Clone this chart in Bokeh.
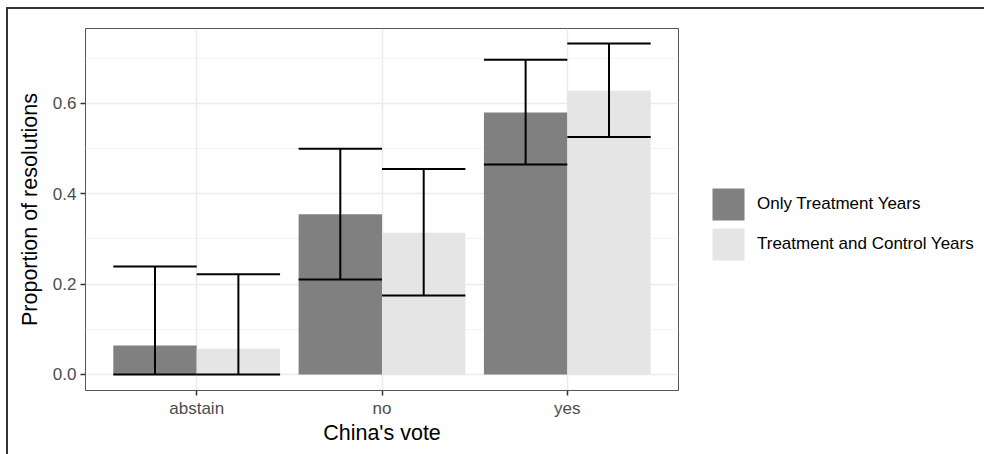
from bokeh.plotting import figure
from bokeh.models import (ColumnDataSource, FactorRange, Range1d, FixedTicker,
                          Legend, LegendItem, PrintfTickFormatter)
from bokeh.transform import dodge
from bokeh.embed import file_html
from bokeh.resources import INLINE

# China's vote categories and estimated proportions with 95% intervals
votes = ["abstain", "no", "yes"]
only_treatment = [0.064, 0.355, 0.580]
only_treatment_lo = [0.0, 0.210, 0.465]
only_treatment_hi = [0.239, 0.500, 0.697]
treat_and_control = [0.057, 0.314, 0.628]
treat_and_control_lo = [0.0, 0.175, 0.526]
treat_and_control_hi = [0.222, 0.455, 0.733]

y_ticks = [0.0, 0.2, 0.4, 0.6]
y_minor = [0.1, 0.3, 0.5, 0.7]

FONT = "Liberation Sans"
DARK = "#808080"
LIGHT = "#E5E5E5"

src = ColumnDataSource(dict(
    vote=votes,
    a=only_treatment, a_lo=only_treatment_lo, a_hi=only_treatment_hi,
    b=treat_and_control, b_lo=treat_and_control_lo, b_hi=treat_and_control_hi,
))

x_range = FactorRange(factors=votes, range_padding=0.1,
                      range_padding_units="absolute")
p = figure(frame_width=593, frame_height=362, x_range=x_range,
           y_range=Range1d(-0.0355, 0.766),
           output_backend="svg", toolbar_location=None,
           min_border_left=77, min_border_right=300,
           min_border_top=19, min_border_bottom=66)
p.margin = (7, 0, 0, 6)
p.styles = {"border-left": "2px solid #333333", "border-top": "2px solid #333333",
            "overflow": "hidden"}

p.background_fill_color = "white"
p.border_fill_color = "white"
p.outline_line_color = "#555555"
p.outline_line_width = 1

# grid
p.xgrid.grid_line_color = "#EBEBEB"
p.xgrid.grid_line_width = 1.5
p.ygrid.grid_line_color = "#EBEBEB"
p.ygrid.grid_line_width = 1.5
p.ygrid.minor_grid_line_color = "#F3F3F3"
p.ygrid.minor_grid_line_width = 1

p.yaxis.ticker = FixedTicker(ticks=y_ticks, minor_ticks=y_minor)
p.yaxis.formatter = PrintfTickFormatter(format="%.1f")

for ax in (p.xaxis[0], p.yaxis[0]):
    ax.axis_line_color = None
    ax.major_tick_line_color = "#333333"
    ax.major_tick_line_width = 1.5
    ax.major_tick_out = 5
    ax.major_tick_in = 0
    ax.minor_tick_line_color = None
    ax.major_label_text_font = FONT
    ax.major_label_text_font_size = "17px"
    ax.major_label_text_color = "#4D4D4D"
    ax.axis_label_text_font = FONT
    ax.axis_label_text_font_size = "21.5px"
    ax.axis_label_text_font_style = "normal"
    ax.axis_label_text_color = "black"

p.xaxis.axis_label = "China's vote"
p.yaxis.axis_label = "Proportion of resolutions"
p.xaxis.major_label_standoff = 3
p.xaxis.axis_label_standoff = 0
p.yaxis.major_label_standoff = 4
p.yaxis.axis_label_standoff = 8

# bars
bar_a = p.vbar(x=dodge("vote", -0.225, range=x_range), top="a", bottom=0,
               width=0.45, source=src, fill_color=DARK, line_color=None)
bar_b = p.vbar(x=dodge("vote", 0.225, range=x_range), top="b", bottom=0,
               width=0.45, source=src, fill_color=LIGHT, line_color=None)

# error bars: caps span the full bar width
err = dict(line_color="black", line_width=2, source=src)
for off, lo, hi in ((-0.225, "a_lo", "a_hi"), (0.225, "b_lo", "b_hi")):
    p.segment(x0=dodge("vote", off, range=x_range), y0=lo,
              x1=dodge("vote", off, range=x_range), y1=hi, **err)
    p.segment(x0=dodge("vote", off - 0.225, range=x_range), y0=lo,
              x1=dodge("vote", off + 0.225, range=x_range), y1=lo, **err)
    p.segment(x0=dodge("vote", off - 0.225, range=x_range), y0=hi,
              x1=dodge("vote", off + 0.225, range=x_range), y1=hi, **err)

# legend in the right-hand panel
legend = Legend(items=[
    LegendItem(label="Only Treatment Years", renderers=[bar_a]),
    LegendItem(label="Treatment and Control Years", renderers=[bar_b]),
], location=(30, 126))
legend.glyph_width = 40
legend.glyph_height = 40
legend.label_height = 40
legend.spacing = 0
legend.label_standoff = 9
legend.padding = 0
legend.margin = 0
legend.border_line_color = None
legend.background_fill_alpha = 0
legend.label_text_font = FONT
legend.label_text_font_size = "17px"
legend.label_text_color = "black"
p.add_layout(legend, "right")

open("out.html", "w").write(file_html(p, INLINE))
